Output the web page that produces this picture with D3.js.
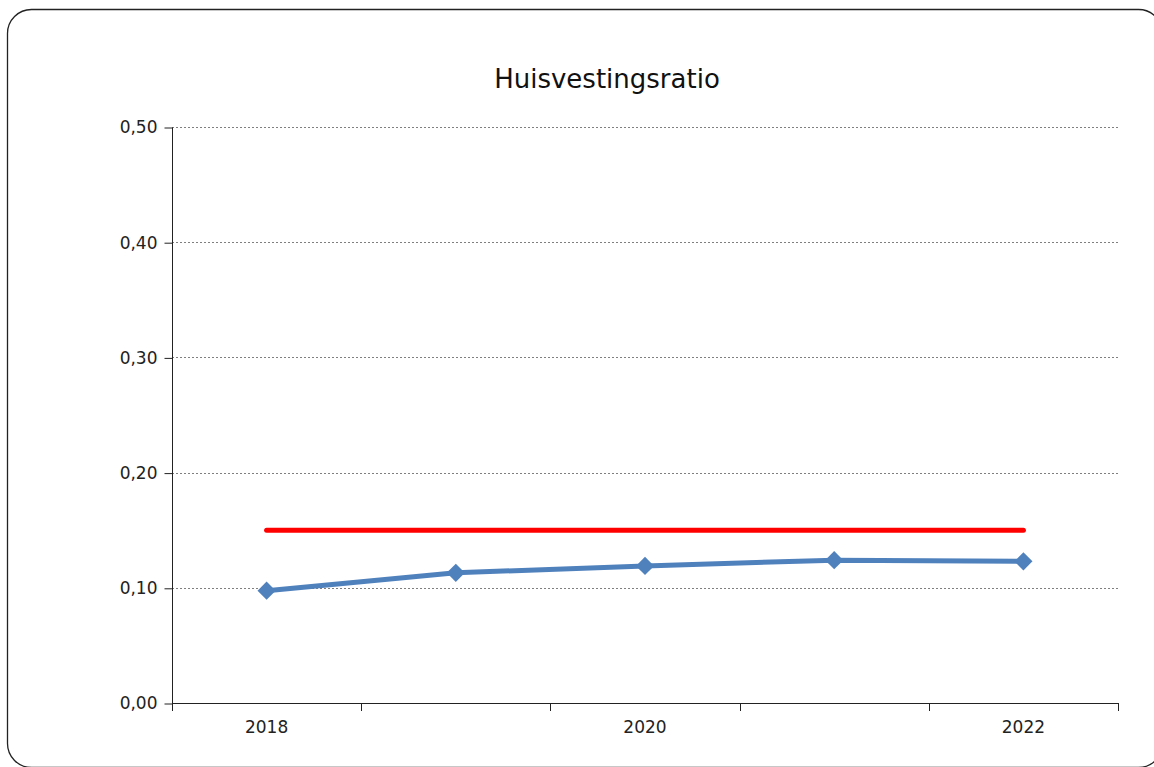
<!DOCTYPE html>
<html>
<head>
<meta charset="utf-8">
<script src="https://cdn.jsdelivr.net/npm/d3@7"></script>
<style>
  html, body { margin: 0; padding: 0; background: #fff; }
  svg { display: block; font-family: "DejaVu Sans", Verdana, sans-serif; }
</style>
</head>
<body>
<svg id="chart"></svg>
<script>
// data
const years = ['2018', '2019', '2020', '2021', '2022']
const ratio = [0.0975, 0.113, 0.119, 0.124, 0.123]
const norm = [0.15, 0.15, 0.15, 0.15, 0.15]
const yTicks = [0, 0.1, 0.2, 0.3, 0.4, 0.5]
const shownYears = ['2018', '2020', '2022']
const title = 'Huisvestingsratio'

const width = 1154
const height = 767
const margin = { left: 172, right: 36, top: 127, bottom: 64 }

const svg = d3.select('#chart')
    .attr('width', width)
    .attr('height', height)

// rounded frame, partly off the page like the original
svg.append('rect')
    .attr('x', 7.5)
    .attr('y', 9.5)
    .attr('width', 1155)
    .attr('height', 758)
    .attr('rx', 24)
    .attr('fill', 'none')
    .attr('stroke', '#222')
    .attr('stroke-width', 1.3)

var x = d3.scaleBand()
    .domain(years)
    .range([margin.left, width - margin.right])
    .padding(0)

var y = d3.scaleLinear()
    .domain([0, 0.5])
    .range([height - margin.bottom, margin.top])

const fmt = d => d3.format('.2f')(d).replace('.', ',')

// gridlines
svg.append('g').attr('class', 'grid')
    .selectAll('line')
    .data(yTicks.filter(d => d > 0))
    .enter().append('line')
    .attr('x1', margin.left)
    .attr('x2', width - margin.right)
    .attr('y1', d => Math.round(y(d)) + 0.5)
    .attr('y2', d => Math.round(y(d)) + 0.5)
    .attr('stroke', '#7f7f7f')
    .attr('stroke-width', 1.2)
    .attr('stroke-dasharray', '2,2')

// y axis
var yAxis = d3.axisLeft(y)
    .tickValues(yTicks)
    .tickFormat(fmt)
    .tickSize(8)
    .tickPadding(7)

var gy = svg.append('g')
    .attr('transform', `translate(${margin.left + 0.5},0.5)`)
    .call(yAxis)
    .attr('font-size', 17)
    .attr('font-family', '"DejaVu Sans", Verdana, sans-serif')
gy.select('.domain').attr('stroke', '#222').attr('d', `M0,${y(0.5)}V${y(0)}`)
gy.selectAll('.tick line').attr('stroke', '#222')
gy.selectAll('.tick text').attr('fill', '#222')

// x axis: ticks between categories, labels on every other year
var bounds = years.map(d => x(d)).concat([x(years[years.length - 1]) + x.bandwidth()])
var gx = svg.append('g').attr('class', 'x-axis')
gx.append('line')
    .attr('x1', margin.left)
    .attr('x2', width - margin.right)
    .attr('y1', y(0) + 0.5)
    .attr('y2', y(0) + 0.5)
    .attr('stroke', '#222')
gx.selectAll('.xtick')
    .data(bounds)
    .enter().append('line')
    .attr('class', 'xtick')
    .attr('x1', d => Math.round(d) + 0.5)
    .attr('x2', d => Math.round(d) + 0.5)
    .attr('y1', y(0))
    .attr('y2', y(0) + 8)
    .attr('stroke', '#222')
gx.selectAll('.xlabel')
    .data(shownYears)
    .enter().append('text')
    .attr('class', 'xlabel')
    .attr('x', d => x(d) + x.bandwidth() / 2)
    .attr('y', y(0) + 30)
    .attr('text-anchor', 'middle')
    .attr('fill', '#222')
    .style('font-size', '17px')
    .text(d => d)

const cx = d => x(d) + x.bandwidth() / 2

// norm line (red)
svg.append('path')
    .datum(norm)
    .attr('fill', 'none')
    .attr('stroke', '#ff0000')
    .attr('stroke-width', 5)
    .attr('stroke-linecap', 'round')
    .attr('d', d3.line().x((d, i) => cx(years[i])).y(d => y(d)))

// ratio line (blue) with diamond markers
svg.append('path')
    .datum(ratio)
    .attr('fill', 'none')
    .attr('stroke', '#4f81bd')
    .attr('stroke-width', 5)
    .attr('stroke-linejoin', 'round')
    .attr('d', d3.line().x((d, i) => cx(years[i])).y(d => y(d)))

svg.append('g')
    .selectAll('path')
    .data(ratio)
    .enter().append('path')
    .attr('transform', (d, i) => `translate(${cx(years[i])},${y(d)})`)
    .attr('d', d3.symbol().type(d3.symbolDiamond2).size(210))
    .attr('fill', '#4f81bd')

// title
svg.append('text')
    .attr('x', 607)
    .attr('y', 88)
    .attr('text-anchor', 'middle')
    .attr('fill', '#111')
    .style('font-size', '26px')
    .text(title)
</script>
</body>
</html>
